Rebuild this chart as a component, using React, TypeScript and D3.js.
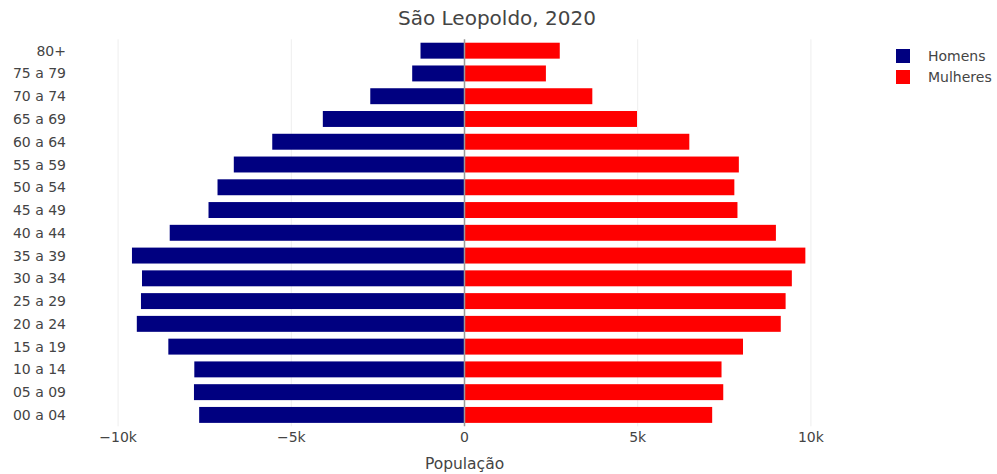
import React from 'react';
import * as d3 from 'd3';

const ageGroups = [
  '80+', '75 a 79', '70 a 74', '65 a 69', '60 a 64', '55 a 59', '50 a 54', '45 a 49', '40 a 44',
  '35 a 39', '30 a 34', '25 a 29', '20 a 24', '15 a 19', '10 a 14', '05 a 09', '00 a 04',
];
const homens = [1270, 1510, 2720, 4090, 5550, 6660, 7130, 7390, 8510, 9600, 9310, 9340, 9460, 8550, 7800, 7810, 7660];
const mulheres = [2750, 2350, 3690, 4980, 6490, 7920, 7790, 7880, 8990, 9840, 9450, 9270, 9130, 8040, 7420, 7470, 7150];
const xTicks = [-10000, -5000, 0, 5000, 10000];
const series = [
  { name: 'Homens', color: '#000080' },
  { name: 'Mulheres', color: '#ff0000' },
];

const W = 997;
const H = 474;
const FONT = '"DejaVu Sans", Verdana, sans-serif';
const TEXT = '#444';

export default function App() {
  const x = d3.scaleLinear().domain([-11100, 11100]).range([80, 849]);
  const y = d3.scaleBand<string>()
    .domain(ageGroups)
    .range([39.3, 426.3])
    .paddingInner(0.3)
    .paddingOuter(0.15);
  const fmt = d3.format('~s');
  const bw = y.bandwidth();

  return (
    <svg width={W} height={H} style={{ position: 'absolute', left: 0, top: 0, background: '#fff' }} fontFamily={FONT}>
      <text x={497} y={25} textAnchor="middle" fontSize={20} fill={TEXT}>São Leopoldo, 2020</text>

      {xTicks.filter(t => t !== 0).map(t => (
        <line key={t} x1={x(t)} x2={x(t)} y1={39.3} y2={426.3} stroke="#eee" strokeWidth={1} />
      ))}

      {ageGroups.map((g, i) => (
        <g key={g}>
          <rect x={x(-homens[i])} y={y(g)} width={x(0) - x(-homens[i])} height={bw} fill={series[0].color} />
          <rect x={x(0)} y={y(g)} width={x(mulheres[i]) - x(0)} height={bw} fill={series[1].color} />
        </g>
      ))}

      <line x1={x(0)} x2={x(0)} y1={39.3} y2={426.3} stroke="#999" strokeWidth={1.5} />

      {ageGroups.map(g => (
        <text key={g} x={66} y={(y(g) ?? 0) + bw / 2} dy="0.36em" textAnchor="end" fontSize={14} fill={TEXT}>{g}</text>
      ))}

      {xTicks.map(t => (
        <text key={t} x={x(t)} y={442} textAnchor="middle" fontSize={14} fill={TEXT}>{fmt(t)}</text>
      ))}

      <text x={x(0)} y={469} textAnchor="middle" fontSize={15.5} fill={TEXT}>População</text>

      {series.map((s, i) => (
        <g key={s.name} transform={`translate(896, ${49 + i * 21})`}>
          <rect x={0} y={0} width={14} height={14} fill={s.color} />
          <text x={32} y={7} dy="0.36em" fontSize={14} fill={TEXT}>{s.name}</text>
        </g>
      ))}
    </svg>
  );
}
